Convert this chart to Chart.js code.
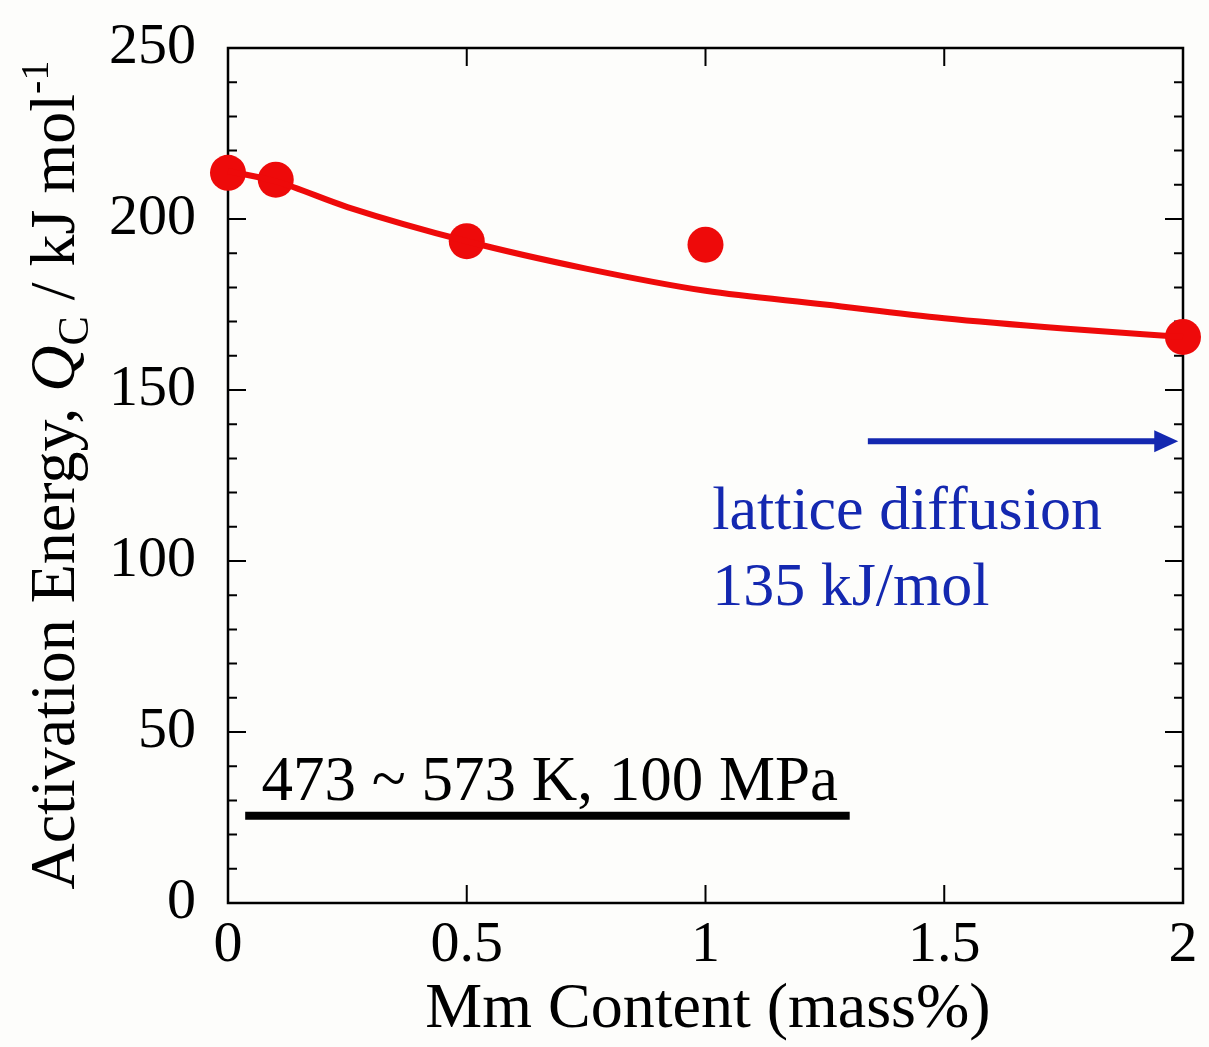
<!DOCTYPE html>
<html>
<head>
<meta charset="utf-8">
<script src="https://cdn.jsdelivr.net/npm/chart.js@4"></script>
<style>
  html, body { margin: 0; padding: 0; background: #fdfdfb; }
  #wrap { width: 1209px; height: 1047px; }
</style>
</head>
<body>
<div id="wrap"><canvas id="c" width="1209" height="1047"></canvas></div>
<script>
// measured points
const mmContent = [0, 0.1, 0.5, 1, 2];
const activationEnergy = [213.5, 211.5, 193.5, 192.5, 165.5];
// fitted curve
const fitContent = [0, 0.1, 0.25, 0.5, 0.75, 1, 1.25, 1.5, 1.75, 2];
const fitEnergy = [214, 211, 203.5, 193.5, 185.5, 179, 175, 171, 168, 165.5];
// lattice diffusion reference
const latticeEnergy = 135;
const arrowFrom = 1.34, arrowTo = 1.99;

const yTicks = [0, 50, 100, 150, 200, 250];
const xTicks = [0, 0.5, 1, 1.5, 2];

const SERIF = '"Liberation Serif", "DejaVu Serif", serif';
const RED = '#ee0a0a';
const BLUE = '#1428b0';

const frame = {
  id: 'frame',
  beforeDatasetsDraw(chart){
    const {ctx, chartArea: a, scales: {x, y}} = chart;
    ctx.save();
    ctx.strokeStyle = '#000';
    ctx.lineWidth = 2.5;
    ctx.strokeRect(a.left, a.top, a.right - a.left, a.bottom - a.top);
    ctx.lineWidth = 2;
    ctx.beginPath();
    for(let v = 10; v < 250; v += 10){
      const py = y.getPixelForValue(v);
      const len = v % 50 === 0 ? 18 : 9;
      ctx.moveTo(a.left, py); ctx.lineTo(a.left + len, py);
      ctx.moveTo(a.right, py); ctx.lineTo(a.right - len, py);
    }
    xTicks.slice(1, -1).forEach(v => {
      const px = x.getPixelForValue(v);
      ctx.moveTo(px, a.bottom); ctx.lineTo(px, a.bottom - 18);
      ctx.moveTo(px, a.top); ctx.lineTo(px, a.top + 18);
    });
    ctx.stroke();
    ctx.restore();
  },
  afterDraw(chart){
    const {ctx, chartArea: a, scales: {x, y}} = chart;
    ctx.save();

    // x title
    ctx.fillStyle = '#000';
    ctx.font = '64px ' + SERIF;
    ctx.textAlign = 'center';
    ctx.textBaseline = 'alphabetic';
    ctx.fillText('Mm Content (mass%)', 708, 1027);

    // y title with italic Q, subscript C, superscript -1
    const parts = [
      {t: 'Activation Energy, ', f: '64px ' + SERIF, dy: 0},
      {t: 'Q', f: 'italic 64px ' + SERIF, dy: 0},
      {t: 'C', f: '44px ' + SERIF, dy: 14},
      {t: ' / kJ mol', f: '64px ' + SERIF, dy: 0},
      {t: '-1', f: '40px ' + SERIF, dy: -26}
    ];
    let total = 0;
    parts.forEach(p => { ctx.font = p.f; p.w = ctx.measureText(p.t).width; total += p.w; });
    ctx.translate(74, 475);
    ctx.rotate(-Math.PI / 2);
    ctx.textAlign = 'left';
    let cx = -total / 2;
    parts.forEach(p => { ctx.font = p.f; ctx.fillText(p.t, cx, p.dy); cx += p.w; });
    ctx.setTransform(1, 0, 0, 1, 0, 0);

    // condition label
    ctx.font = '63px ' + SERIF;
    ctx.textAlign = 'left';
    ctx.fillText('473 ~ 573 K, 100 MPa', x.getPixelForValue(0.07), y.getPixelForValue(30));
    ctx.lineWidth = 8;
    ctx.strokeStyle = '#000';
    ctx.beginPath();
    ctx.moveTo(x.getPixelForValue(0.036), y.getPixelForValue(25.5));
    ctx.lineTo(x.getPixelForValue(1.302), y.getPixelForValue(25.5));
    ctx.stroke();

    // lattice diffusion arrow
    const ay = y.getPixelForValue(latticeEnergy);
    const x0 = x.getPixelForValue(arrowFrom), x1 = x.getPixelForValue(arrowTo);
    ctx.strokeStyle = BLUE; ctx.fillStyle = BLUE;
    ctx.lineWidth = 6;
    ctx.beginPath(); ctx.moveTo(x0, ay); ctx.lineTo(x1 - 20, ay); ctx.stroke();
    ctx.beginPath();
    ctx.moveTo(x1, ay); ctx.lineTo(x1 - 24, ay - 11); ctx.lineTo(x1 - 24, ay + 11);
    ctx.closePath(); ctx.fill();

    ctx.font = '62px ' + SERIF;
    ctx.fillText('lattice diffusion', x.getPixelForValue(1.014), y.getPixelForValue(109.5));
    ctx.fillText('135 kJ/mol', x.getPixelForValue(1.014), y.getPixelForValue(87));
    ctx.restore();
  }
};

new Chart(document.getElementById('c'), {
  type: 'scatter',
  data: {
    datasets: [
      {
        data: fitContent.map((v, i) => ({x: v, y: fitEnergy[i]})),
        showLine: true,
        borderColor: RED,
        borderWidth: 6,
        pointRadius: 0,
        cubicInterpolationMode: 'monotone',
        clip: false
      },
      {
        data: mmContent.map((v, i) => ({x: v, y: activationEnergy[i]})),
        showLine: false,
        backgroundColor: RED,
        borderColor: RED,
        borderWidth: 0,
        pointRadius: 18,
        clip: false
      }
    ]
  },
  options: {
    responsive: false,
    animation: false,
    events: [],
    layout: { padding: { top: 48, right: 26, left: 0, bottom: 0 } },
    plugins: { legend: { display: false }, tooltip: { enabled: false } },
    scales: {
      x: {
        type: 'linear', min: 0, max: 2,
        afterBuildTicks: s => { s.ticks = xTicks.map(v => ({value: v})); },
        afterFit: s => { s.height = 144; s.paddingLeft = 0; s.paddingRight = 0; },
        ticks: { font: { family: SERIF, size: 58 }, color: '#000', padding: 0, maxRotation: 0,
                 callback: v => String(v) },
        grid: { display: false },
        border: { display: false }
      },
      y: {
        min: 0, max: 250,
        afterBuildTicks: s => { s.ticks = yTicks.map(v => ({value: v})); },
        afterFit: s => { s.width = 228; s.paddingTop = 0; s.paddingBottom = 0; },
        ticks: { font: { family: SERIF, size: 58 }, color: '#000', padding: 24,
                 callback: v => String(v) },
        grid: { display: false },
        border: { display: false }
      }
    }
  },
  plugins: [frame]
});
</script>
</body>
</html>
